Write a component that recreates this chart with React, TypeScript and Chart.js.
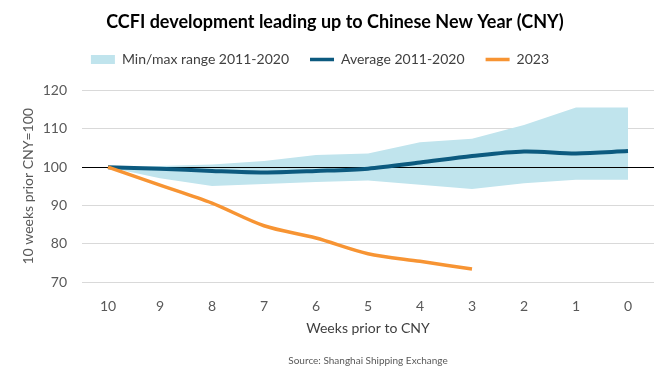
import { useEffect, useRef } from "react";
import { Chart, registerables } from "chart.js";

Chart.register(...registerables);

const categories = ["10", "9", "8", "7", "6", "5", "4", "3", "2", "1", "0"];
const rangeMin = [100, 97.1, 95.1, 95.6, 96.1, 96.5, 95.4, 94.3, 95.8, 96.7, 96.7];
const rangeMax = [100, 100.3, 100.7, 101.6, 103.2, 103.6, 106.5, 107.4, 111.0, 115.6, 115.6];
const average = [100, 99.6, 99.0, 98.6, 99.0, 99.6, 101.2, 102.9, 104.1, 103.6, 104.2];
const series2023 = [100, 95.3, 90.6, 84.7, 81.5, 77.4, 75.4, 73.4];
const yTicks = [70, 80, 90, 100, 110, 120];

const BAND = "#c0e4ed";
const AVG = "#0c5a7f";
const ORANGE = "#f79433";
const GRID = "#d9d9d9";
const TEXT = "#595959";
const FONT = "Lato, 'Open Sans', sans-serif";

const refLinePlugin = {
  id: "refLine",
  afterDatasetDraw(chart: any, args: any) {
    if (args.index !== 1) return;
    const { ctx, chartArea } = chart;
    const y = Math.round(chart.scales.y.getPixelForValue(100)) + 0.5;
    ctx.save();
    ctx.strokeStyle = "#000";
    ctx.lineWidth = 1;
    ctx.beginPath();
    ctx.moveTo(chartArea.left, y);
    ctx.lineTo(chartArea.right, y);
    ctx.stroke();
    ctx.restore();
  },
};

const legendShiftPlugin = {
  id: "legendShift",
  afterLayout(chart: any) {
    if (chart.legend) {
      chart.legend.left -= 15;
      chart.legend.right -= 15;
    }
  },
};

const sourcePlugin = {
  id: "sourceText",
  afterDraw(chart: any) {
    const { ctx, chartArea } = chart;
    ctx.save();
    ctx.font = `10px ${FONT}`;
    ctx.fillStyle = TEXT;
    ctx.textAlign = "center";
    ctx.textBaseline = "middle";
    ctx.fillText("Source: Shanghai Shipping Exchange", (chartArea.left + chartArea.right) / 2, 361);
    ctx.restore();
  },
};

export default function App() {
  const ref = useRef<HTMLCanvasElement | null>(null);

  useEffect(() => {
    document.body.style.margin = "0";
    if (!ref.current) return;
    const chart = new Chart(ref.current, {
      type: "line",
      data: {
        labels: categories,
        datasets: [
          {
            label: "min",
            data: rangeMin,
            borderWidth: 0,
            pointRadius: 0,
            tension: 0,
            fill: false,
            order: 4,
          },
          {
            label: "Min/max range 2011-2020",
            data: rangeMax,
            borderWidth: 0,
            pointRadius: 0,
            tension: 0,
            backgroundColor: BAND,
            fill: "-1",
            order: 3,
          },
          {
            label: "Average 2011-2020",
            data: average,
            borderColor: AVG,
            borderWidth: 4,
            pointRadius: 0,
            tension: 0.3,
            fill: false,
            order: 2,
          },
          {
            label: "2023",
            data: series2023,
            borderColor: ORANGE,
            borderWidth: 3.5,
            pointRadius: 0,
            tension: 0.3,
            fill: false,
            order: 1,
          },
        ],
      },
      options: {
        responsive: false,
        animation: false,
        layout: { padding: { left: 16, right: 16, top: 0, bottom: 0 } },
        plugins: {
          tooltip: { enabled: false },
          title: {
            display: true,
            text: "CCFI development leading up to Chinese New Year (CNY)",
            color: "#000",
            font: { family: FONT, size: 18, weight: "bold" },
            padding: { top: 11, bottom: -1 },
          },
          subtitle: {
            display: true,
            text: "",
            position: "top",
            weight: 500,
            font: { size: 1, lineHeight: 1 },
            padding: { top: 13, bottom: 0 },
          } as any,
          legend: {
            display: true,
            align: "center",
            onClick: () => {},
            labels: {
              usePointStyle: true,
              pointStyleWidth: 24,
              boxHeight: 9,
              padding: 21,
              color: "#404040",
              font: { family: FONT, size: 14 },
              generateLabels: () => [
                { text: "Min/max range 2011-2020", fillStyle: BAND, strokeStyle: BAND, lineWidth: 0, pointStyle: "rect", hidden: false, datasetIndex: 1, fontColor: "#404040" },
                { text: "Average 2011-2020", fillStyle: AVG, strokeStyle: AVG, lineWidth: 3.5, pointStyle: "line", hidden: false, datasetIndex: 2, fontColor: "#404040" },
                { text: "2023", fillStyle: ORANGE, strokeStyle: ORANGE, lineWidth: 3.5, pointStyle: "line", hidden: false, datasetIndex: 3, fontColor: "#404040" },
              ] as any,
            },
          },
        },
        scales: {
          x: {
            offset: true,
            grid: { display: false },
            border: { display: false },
            ticks: { color: TEXT, font: { family: FONT, size: 14 }, padding: 8, maxRotation: 0 },
            title: {
              display: true,
              text: "Weeks prior to CNY",
              color: "#404040",
              font: { family: FONT, size: 14 },
              padding: { top: 0, bottom: 43 },
            },
            afterFit: (s: any) => {
              s.height = 98;
            },
          },
          y: {
            min: 70,
            max: 120,
            border: { display: false },
            grid: { color: GRID, lineWidth: 1, drawTicks: false },
            ticks: { color: TEXT, font: { family: FONT, size: 14 }, padding: 15 },
            afterBuildTicks: (s: any) => {
              s.ticks = yTicks.map((v) => ({ value: v }));
            },
            title: {
              display: true,
              text: "10 weeks prior CNY=100",
              color: TEXT,
              font: { family: FONT, size: 14 },
              padding: { top: 4, bottom: 0 },
            },
            afterFit: (s: any) => {
              s.width = 66;
            },
          },
        },
      },
      plugins: [refLinePlugin, legendShiftPlugin, sourcePlugin],
    });
    return () => chart.destroy();
  }, []);

  return (
    <div style={{ width: 670, height: 380, background: "#fff" }}>
      <canvas ref={ref} width={670} height={380} />
    </div>
  );
}
